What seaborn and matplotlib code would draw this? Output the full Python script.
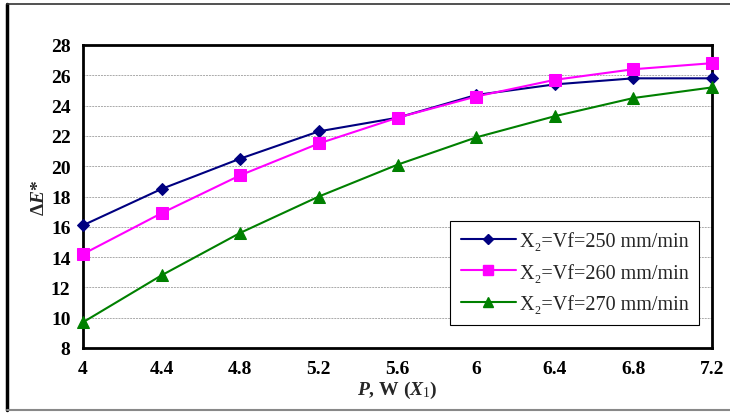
import matplotlib
matplotlib.use("Agg")
import matplotlib.pyplot as plt
import seaborn as sns
import pandas as pd
from matplotlib.lines import Line2D

# data
power = [4.0, 4.4, 4.8, 5.2, 5.6, 6.0, 6.4, 6.8, 7.2]
de_250 = [16.1, 18.5, 20.5, 22.3, 23.2, 24.7, 25.4, 25.8, 25.8]
de_260 = [14.2, 16.9, 19.4, 21.5, 23.2, 24.6, 25.7, 26.4, 26.8]
de_270 = [9.7, 12.8, 15.6, 18.0, 20.1, 21.9, 23.3, 24.5, 25.2]
labels = ["X\u2082=Vf=250 mm/min", "X\u2082=Vf=260 mm/min", "X\u2082=Vf=270 mm/min"]
xticks = [4, 4.4, 4.8, 5.2, 5.6, 6, 6.4, 6.8, 7.2]
xtick_labels = ["4", "4.4", "4.8", "5.2", "5.6", "6", "6.4", "6.8", "7.2"]
yticks = list(range(8, 29, 2))

df = pd.DataFrame({
    "P": power * 3,
    "dE": de_250 + de_260 + de_270,
    "series": [labels[0]] * 9 + [labels[1]] * 9 + [labels[2]] * 9,
})

sns.set_style("white")
plt.rcParams["font.family"] = ["Liberation Serif", "DejaVu Serif"]
plt.rcParams["mathtext.fontset"] = "custom"
plt.rcParams["mathtext.rm"] = "Liberation Serif"
plt.rcParams["mathtext.it"] = "Liberation Serif:italic:bold"
plt.rcParams["mathtext.bf"] = "Liberation Serif:bold"

fig = plt.figure(figsize=(7.3, 4.14), dpi=100)
ax = fig.add_axes([83 / 730, 1 - 349 / 414, (712 - 83) / 730, (349 - 46) / 414])

colors = ["#000080", "#FF00FF", "#008000"]
markers = ["D", "s", "^"]
sizes = [6, 8, 8]
for lab, c, m, s in zip(labels, colors, markers, sizes):
    sub = df[df["series"] == lab]
    sns.lineplot(data=sub, x="P", y="dE", ax=ax, color=c, marker=m,
                 markersize=s, markeredgecolor=c, linewidth=1.5,
                 label=lab, clip_on=False, zorder=3)

ax.set_xlim(4, 7.2)
ax.set_ylim(8, 28)
ax.set_xticks(xticks)
ax.set_xticklabels(xtick_labels)
ax.set_yticks(yticks)
ax.tick_params(axis="both", direction="out", length=4, width=1, colors="black",
               labelsize=14, pad=5)
for t in ax.get_xticklabels() + ax.get_yticklabels():
    t.set_fontweight("bold")

# dashed horizontal grid
for y in yticks[1:-1]:
    ax.axhline(y, color="#aaaaaa", linestyle=(0, (2, 1)), linewidth=0.7, zorder=1)

for sp in ax.spines.values():
    sp.set_color("black")
    sp.set_linewidth(2)

ax.set_xlabel(r"$\it{P}$, W ($\it{X}_1$)", fontsize=14, fontweight="bold", labelpad=1)
ax.set_ylabel(r"Δ$\it{E}$*", fontsize=14, fontweight="bold", labelpad=2)

handles = [Line2D([0], [0], color=c, marker=m, markersize=s - 1, linewidth=1.5)
           for c, m, s in zip(colors, markers, sizes)]
leg = ax.legend(handles, labels, loc="lower right", bbox_to_anchor=(0.996, 0.042),
                fontsize=14.5, frameon=True, fancybox=False, edgecolor="black",
                framealpha=1, handlelength=2.7, handletextpad=0.2,
                labelspacing=0.62, borderpad=0.55)
leg.get_frame().set_linewidth(0.8)

# outer frame of the picture
fig.add_artist(Line2D([7 / 730, 7 / 730], [1 - 5 / 414, 1 - 411 / 414], color="black", linewidth=2.5))
fig.add_artist(Line2D([7 / 730, 1.0], [1 - 5 / 414, 1 - 5 / 414], color="#333333", linewidth=1.2))
fig.add_artist(Line2D([7 / 730, 1.0], [1 - 411 / 414, 1 - 411 / 414], color="#888888", linewidth=1.5))

fig.savefig("out.png", dpi=100)
